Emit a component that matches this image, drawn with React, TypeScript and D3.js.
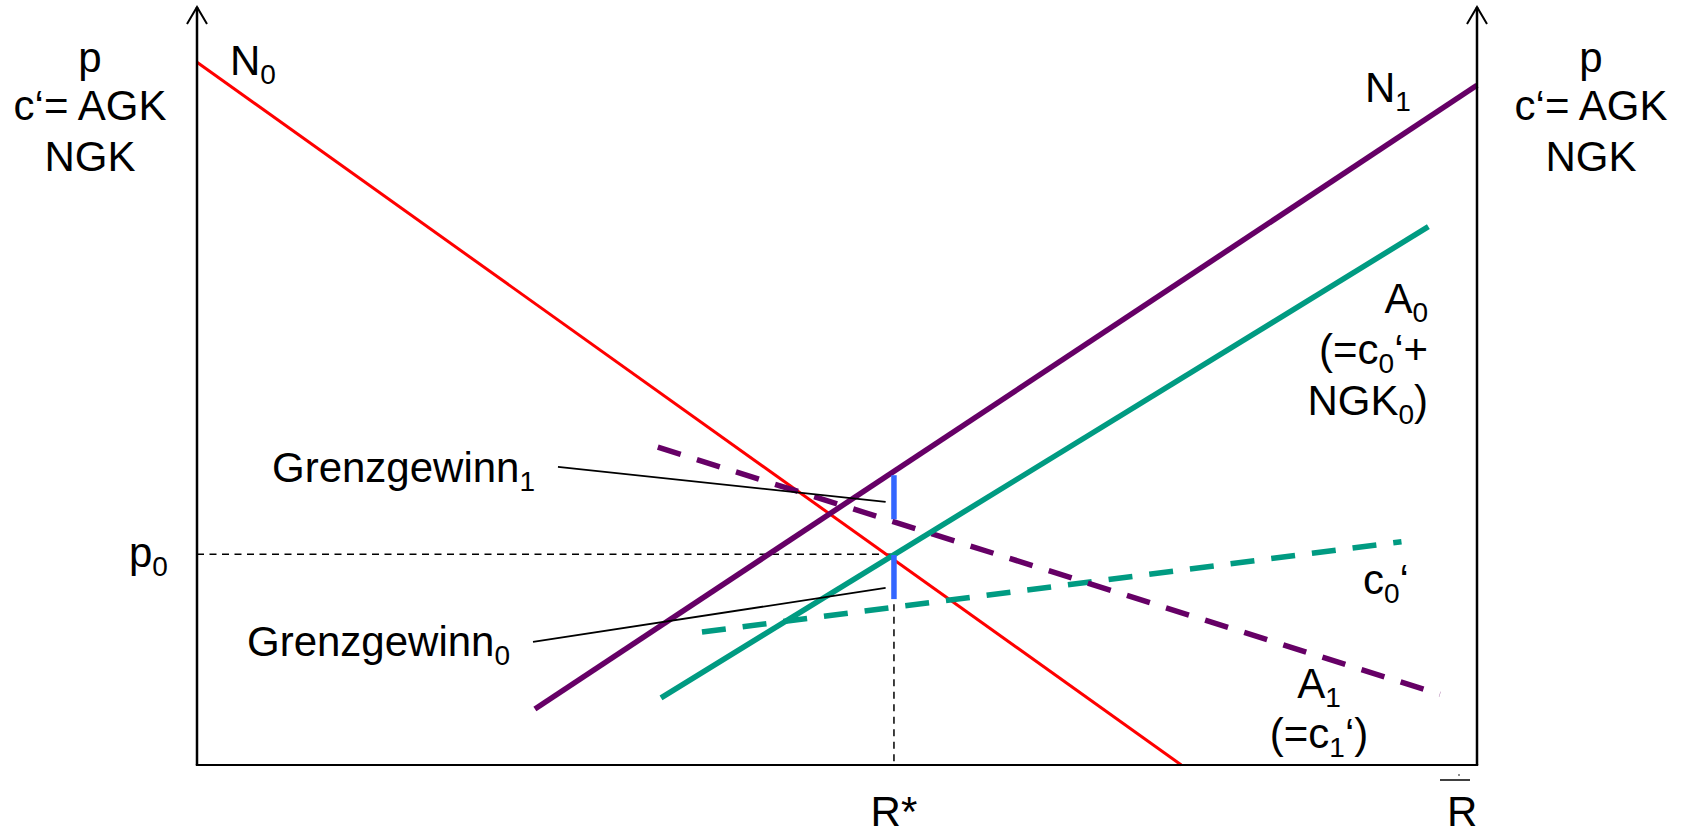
import React from "react";
import * as d3 from "d3";

// ---- data (model units: R on x, price on y) ----
const rMax = 100; // R̄
const pTop = 108.3;
const rStar = 54.45;
const p0 = 30.1;

type Pt = [number, number];
const N0: Pt[] = [[0, 100.4], [76.9, 0]];
const N1: Pt[] = [[26.4, 8.0], [100, 97.1]];
const A0: Pt[] = [[36.25, 9.6], [96.2, 76.9]];
const C0: Pt[] = [[39.45, 19.0], [94.1, 31.9]];
const A1: Pt[] = [[36.0, 45.4], [97.1, 10.1]];
const gain1: Pt[] = [[rStar, 41.4], [rStar, 35.1]];
const gain0: Pt[] = [[rStar, 30.0], [rStar, 23.7]];
const leader1: Pt[] = [[28.2, 42.6], [53.8, 37.6]];
const leader0: Pt[] = [[26.25, 17.6], [53.8, 25.3]];

// ---- layout ----
const W = 1689;
const H = 835;
const X0 = 197, X1 = 1477, Y0 = 765, PX_PER_Y = 7;

const FONT = "'Liberation Sans', Arial, Helvetica, sans-serif";
const FS = 42;
const SUB = 28;
const DY = 9;

const RED = "#ff0000";
const PURPLE = "#660066";
const TEAL = "#009b82";
const BLUE = "#3366ff";

export default function App() {
  const x = d3.scaleLinear().domain([0, rMax]).range([X0, X1]);
  const y = d3.scaleLinear().domain([0, 100]).range([Y0, Y0 - 100 * PX_PER_Y]);
  const line = d3.line<Pt>().x((d) => x(d[0])).y((d) => y(d[1]));

  const arrow = (ax: number) => {
    const tip = y(pTop);
    return `M${ax - 10},${tip + 17} L${ax},${tip} L${ax + 10},${tip + 17}`;
  };

  const sub = (base: string, s: string, rest = "") => (
    <>
      <tspan>{base}</tspan>
      <tspan fontSize={SUB} dy={DY}>{s}</tspan>
      {rest ? <tspan dy={-DY}>{rest}</tspan> : null}
    </>
  );

  return (
    <svg
      width={W}
      height={H}
      style={{ position: "absolute", left: 0, top: 0, display: "block", background: "#fff" }}
      fontFamily={FONT}
      fontSize={FS}
    >
      <rect x={0} y={0} width={W} height={H} fill="#fff" />
      {/* reference dashed lines */}
      <path d={line([[0, p0], [rStar, p0]])!} stroke="#000" strokeWidth={1.5} strokeDasharray="7,5.5" fill="none" />
      <path d={line([[rStar, p0], [rStar, 0]])!} stroke="#000" strokeWidth={1.5} strokeDasharray="7,5.5" fill="none" />

      {/* curves */}
      <path d={line(N0)!} stroke={RED} strokeWidth={3} fill="none" />
      <path d={line(C0)!} stroke={TEAL} strokeWidth={5.5} strokeDasharray="24,17" fill="none" />
      <path d={line(A1)!} stroke={PURPLE} strokeWidth={5.5} strokeDasharray="24,17" fill="none" />
      <path d={line(A0)!} stroke={TEAL} strokeWidth={5.5} fill="none" />
      <path d={line(N1)!} stroke={PURPLE} strokeWidth={5.5} fill="none" />

      {/* Grenzgewinn bars */}
      <path d={line(gain1)!} stroke={BLUE} strokeWidth={5.5} fill="none" />
      <path d={line(gain0)!} stroke={BLUE} strokeWidth={5.5} fill="none" />

      {/* leader lines */}
      <path d={line(leader1)!} stroke="#000" strokeWidth={1.8} fill="none" />
      <path d={line(leader0)!} stroke="#000" strokeWidth={1.8} fill="none" />

      {/* axes */}
      <line x1={x(0)} y1={y(0)} x2={x(0)} y2={y(pTop)} stroke="#000" strokeWidth={2.5} />
      <line x1={x(rMax)} y1={y(0)} x2={x(rMax)} y2={y(pTop)} stroke="#000" strokeWidth={2.5} />
      <line x1={x(0) - 1.2} y1={y(0)} x2={x(rMax) + 1.2} y2={y(0)} stroke="#000" strokeWidth={2} />
      <path d={arrow(x(0))} stroke="#000" strokeWidth={2} fill="none" />
      <path d={arrow(x(rMax))} stroke="#000" strokeWidth={2} fill="none" />

      {/* axis titles */}
      <g textAnchor="middle">
        <text x={90} y={72}>p</text>
        <text x={90} y={120}>c‘= AGK</text>
        <text x={90} y={171}>NGK</text>
        <text x={1591} y={72}>p</text>
        <text x={1591} y={120}>c‘= AGK</text>
        <text x={1591} y={171}>NGK</text>
      </g>

      {/* curve labels */}
      <text x={230} y={75}>{sub("N", "0")}</text>
      <text x={1365} y={102}>{sub("N", "1")}</text>
      <g textAnchor="end">
        <text x={1428} y={313}>{sub("A", "0")}</text>
        <text x={1428} y={364}>{sub("(=c", "0", "‘+")}</text>
        <text x={1428} y={415}>{sub("NGK", "0", ")")}</text>
      </g>
      <text x={1363} y={594}>{sub("c", "0", "‘")}</text>
      <g textAnchor="middle">
        <text x={1319} y={698}>{sub("A", "1")}</text>
        <text x={1319} y={748}>{sub("(=c", "1", "‘)")}</text>
      </g>
      <text x={272} y={482}>{sub("Grenzgewinn", "1")}</text>
      <text x={247} y={656}>{sub("Grenzgewinn", "0")}</text>

      {/* axis value labels */}
      <text x={129} y={567}>{sub("p", "0")}</text>
      <text x={x(rStar)} y={826} textAnchor="middle">R*</text>
      <text x={1447} y={826}>R</text>
      <line x1={1440} y1={780} x2={1470} y2={780} stroke="#000" strokeWidth={1.5} />
      <circle cx={1459} cy={775} r={0.8} fill="#000" />
    </svg>
  );
}
